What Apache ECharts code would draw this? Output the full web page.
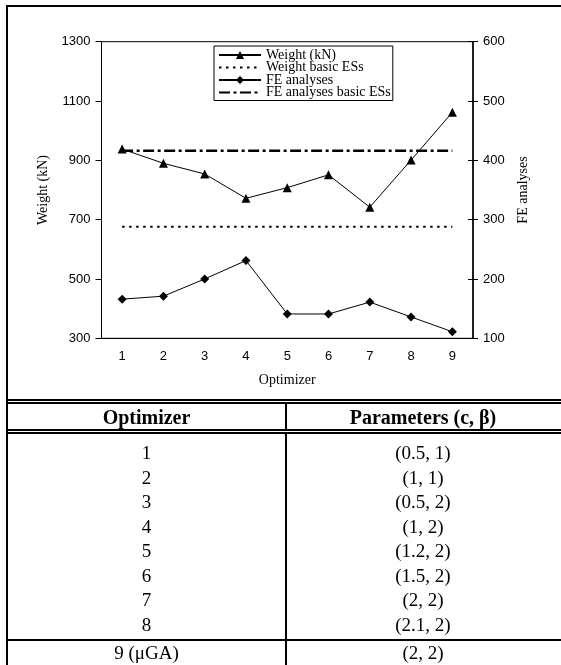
<!DOCTYPE html>
<html>
<head>
<meta charset="utf-8">
<script src="https://cdn.jsdelivr.net/npm/echarts@6/dist/echarts.min.js"></script>
<style>
  html, body { margin: 0; padding: 0; background: #fff; width: 561px; height: 665px; overflow: hidden; }
  #chart { position: absolute; left: 0; top: 0; width: 561px; height: 398px; }
  .rule { position: absolute; background: #000; }
  .cell { position: absolute; font-family: "Liberation Serif", "Times New Roman", serif; color: #000;
          text-align: center; font-size: 19px; white-space: nowrap; }
  .head { font-weight: bold; font-size: 20px; }
</style>
</head>
<body>
<div id="chart"></div>
<div id="table"></div>
<script>
// Optimizer runs 1-9
const categories = ['1', '2', '3', '4', '5', '6', '7', '8', '9'];
// Structural weight of the best design per optimizer (kN)
const weight = [938, 890, 854, 772, 808, 851, 742, 901, 1062];
// Weight obtained with the basic ESs (kN)
const weightBasic = [676, 676, 676, 676, 676, 676, 676, 676, 676];
// Number of finite element analyses per optimizer
const feAnalyses = [166, 171, 200, 231, 141, 141, 161, 136, 111];
// FE analyses needed by the basic ESs
const feBasic = [416, 416, 416, 416, 416, 416, 416, 416, 416];

// Table of optimizer parameters
const tableHeader = ['Optimizer', 'Parameters (c, \u03B2)'];
const optimizerNames = ['1', '2', '3', '4', '5', '6', '7', '8', '9 (\u03BCGA)'];
const optimizerParams = ['(0.5, 1)', '(1, 1)', '(0.5, 2)', '(1, 2)', '(1.2, 2)', '(1.5, 2)', '(2, 2)', '(2.1, 2)', '(2, 2)'];

const serif = '"Liberation Serif", "Times New Roman", serif';
const sans = '"Liberation Sans", Arial, sans-serif';

const chart = echarts.init(document.getElementById('chart'), null, { renderer: 'canvas' });

const tickLabel = { color: '#000', fontFamily: sans, fontSize: 13, formatter: v => String(v) };
// line-only legend entries (no marker drawn on the icon)
const noMarker = { color: 'rgba(0,0,0,0)', borderWidth: 0, opacity: 0 };

chart.setOption({
  animation: false,
  backgroundColor: 'transparent',
  grid: { left: 101.5, right: 88, top: 41.7, bottom: 59.7, show: true, borderColor: '#000', borderWidth: 1 },
  legend: {
    orient: 'vertical',
    left: 214, top: 46,
    backgroundColor: '#fff',
    borderColor: '#000', borderWidth: 1, borderRadius: 0,
    padding: [2, 2, 1, 4],
    itemWidth: 42, itemHeight: 10, itemGap: -1.5,
    textStyle: { fontFamily: serif, fontSize: 14, color: '#000', lineHeight: 12.5 },
    data: [
      { name: 'Weight (kN)' },
      { name: 'Weight basic ESs', itemStyle: noMarker },
      { name: 'FE analyses' },
      { name: 'FE analyses basic ESs', itemStyle: noMarker }
    ]
  },
  xAxis: {
    type: 'category',
    data: categories,
    boundaryGap: true,
    name: 'Optimizer',
    nameLocation: 'middle',
    nameGap: 35,
    nameTextStyle: { fontFamily: serif, fontSize: 14, color: '#000' },
    axisLine: { lineStyle: { color: '#000', width: 1 } },
    axisTick: { show: false },
    axisLabel: { margin: 12, color: '#000', fontFamily: sans, fontSize: 13 },
    splitLine: { show: false }
  },
  yAxis: [
    {
      type: 'value', position: 'left',
      min: 300, max: 1300, interval: 200,
      name: 'Weight (kN)', nameLocation: 'middle', nameRotate: 90, nameGap: 48,
      nameTextStyle: { fontFamily: serif, fontSize: 14, color: '#000' },
      axisLine: { show: true, lineStyle: { color: '#000', width: 1 } },
      axisTick: { show: true, length: 6, lineStyle: { color: '#000' } },
      axisLabel: Object.assign({ margin: 11 }, tickLabel),
      splitLine: { show: false }
    },
    {
      type: 'value', position: 'right',
      min: 100, max: 600, interval: 100,
      name: 'FE analyses', nameLocation: 'middle', nameRotate: 90, nameGap: 43,
      nameTextStyle: { fontFamily: serif, fontSize: 14, color: '#000' },
      axisLine: { show: true, lineStyle: { color: '#000', width: 1.5 } },
      axisTick: { show: true, length: 5, lineStyle: { color: '#000' } },
      axisLabel: Object.assign({ margin: 10 }, tickLabel),
      splitLine: { show: false }
    },
    {
      // inner half of the crossing ticks on the right axis
      type: 'value', position: 'right',
      min: 100, max: 600, interval: 100,
      axisLine: { show: false },
      axisTick: { show: true, inside: true, length: 5, lineStyle: { color: '#000' } },
      axisLabel: { show: false },
      splitLine: { show: false }
    }
  ],
  series: [
    {
      name: 'Weight (kN)', type: 'line', yAxisIndex: 0, data: weight,
      symbol: 'triangle', symbolSize: 9, showAllSymbol: true,
      itemStyle: { color: '#000' }, lineStyle: { color: '#000', width: 1 }
    },
    {
      name: 'Weight basic ESs', type: 'line', yAxisIndex: 0, data: weightBasic,
      symbol: 'none',
      itemStyle: { color: '#000' }, lineStyle: { color: '#000', width: 2, type: [2.5, 4.5] }
    },
    {
      name: 'FE analyses', type: 'line', yAxisIndex: 1, data: feAnalyses,
      symbol: 'diamond', symbolSize: 9, showAllSymbol: true,
      itemStyle: { color: '#000' }, lineStyle: { color: '#000', width: 1 }
    },
    {
      name: 'FE analyses basic ESs', type: 'line', yAxisIndex: 1, data: feBasic,
      symbol: 'none',
      itemStyle: { color: '#000' }, lineStyle: { color: '#000', width: 2.5, type: [11, 3.5, 3, 3.5] }
    }
  ]
});

// Frame and table rules
const rules = [
  { l: 6, t: 5, w: 555, h: 2 },     // top border
  { l: 6, t: 5, w: 2, h: 660 },     // left border
  { l: 6, t: 399, w: 555, h: 2 },   // double rule under the chart
  { l: 6, t: 402, w: 555, h: 2 },
  { l: 6, t: 429, w: 555, h: 2 },   // double rule under the header
  { l: 6, t: 432, w: 555, h: 2 },
  { l: 6, t: 639, w: 555, h: 2 },   // rule above the last row
  { l: 285, t: 404, w: 2, h: 25 },  // column divider
  { l: 285, t: 434, w: 2, h: 231 }
];
const table = document.getElementById('table');
rules.forEach(r => {
  const d = document.createElement('div');
  d.className = 'rule';
  d.style.cssText = `left:${r.l}px;top:${r.t}px;width:${r.w}px;height:${r.h}px;`;
  table.appendChild(d);
});

function addCell(text, cx, cy, bold) {
  const d = document.createElement('div');
  d.className = 'cell' + (bold ? ' head' : '');
  d.textContent = text;
  d.style.left = (cx - 140) + 'px';
  d.style.width = '280px';
  d.style.top = (cy - 12) + 'px';
  d.style.lineHeight = '24px';
  table.appendChild(d);
}
const colA = 146.5, colB = 423;
addCell(tableHeader[0], colA, 417, true);
addCell(tableHeader[1], colB, 417, true);
optimizerNames.forEach((name, i) => {
  const cy = i < 8 ? 453 + i * 24.5 : 653;
  addCell(name, colA, cy, false);
  addCell(optimizerParams[i], colB, cy, false);
});
</script>
</body>
</html>
